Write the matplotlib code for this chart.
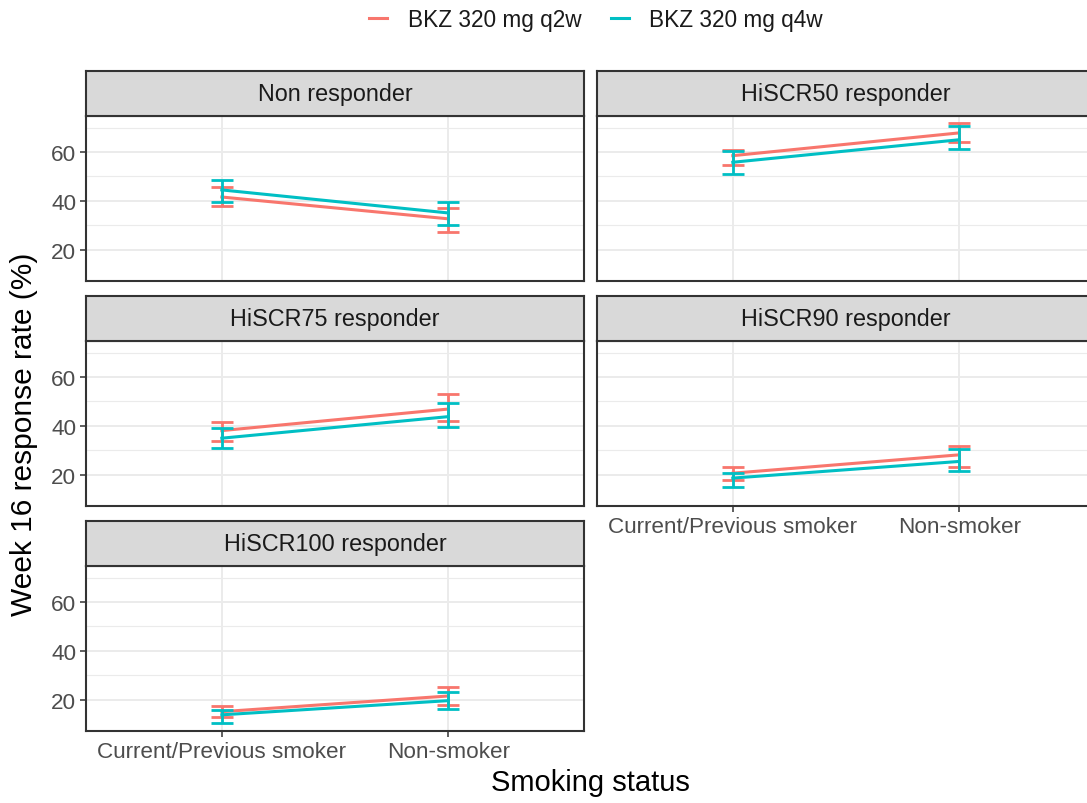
import matplotlib
matplotlib.use("Agg")
import matplotlib.pyplot as plt
from matplotlib.lines import Line2D

plt.rcParams['font.family'] = ['Liberation Sans', 'DejaVu Sans']

# ---- data ----
panels = ["Non responder", "HiSCR50 responder", "HiSCR75 responder",
          "HiSCR90 responder", "HiSCR100 responder"]
categories = ["Current/Previous smoker", "Non-smoker"]
series_names = ["BKZ 320 mg q2w", "BKZ 320 mg q4w"]

q2w_rate = [[41.6, 32.7], [58.5, 67.8], [38.1, 46.9], [20.7, 28.2], [15.2, 21.6]]
q2w_low = [[38.0, 27.5], [54.7, 63.9], [34.0, 42.0], [18.0, 23.4], [13.2, 18.0]]
q2w_high = [[45.7, 37.1], [61.0, 71.8], [41.5, 53.0], [23.4, 31.8], [17.6, 25.4]]

q4w_rate = [[44.5, 35.1], [55.8, 65.0], [35.0, 43.8], [18.7, 25.5], [13.9, 19.7]]
q4w_low = [[39.5, 30.0], [51.0, 61.2], [30.9, 39.5], [15.2, 21.8], [10.5, 16.2]]
q4w_high = [[48.6, 39.5], [60.5, 70.7], [39.0, 49.3], [20.7, 30.5], [15.9, 23.4]]

y_ticks = [20, 40, 60]
y_minor = [30, 50, 70]

# ---- style ----
W, H = 1087, 804
colors = ["#F8766D", "#00BFC4"]
grey20 = "#333333"
grey30 = "#4D4D4D"
grid_col = "#EBEBEB"

fig = plt.figure(figsize=(W / 100, H / 100), dpi=100)


def fx(px):
    return px / W


def fy(py):
    return 1 - py / H


col_x = [86, 597]
panel_w = 498
row_top = [72, 297, 522]
strip_h = 45
plot_h = 165

layout = [(0, 0), (0, 1), (1, 0), (1, 1), (2, 0)]
bottom_panels = {3, 4}

series = [
    (q2w_rate, q2w_low, q2w_high),
    (q4w_rate, q4w_low, q4w_high),
]

xpos = list(range(1, len(categories) + 1))

for i, name in enumerate(panels):
    r, c = layout[i]
    x0 = col_x[c]
    st = row_top[r]
    pt = st + strip_h
    pb = pt + plot_h
    ax = fig.add_axes([fx(x0), fy(pb), fx(panel_w), (pb - pt) / H])
    sax = fig.add_axes([fx(x0), fy(pt), fx(panel_w), strip_h / H])

    # strip
    sax.set_facecolor("#D9D9D9")
    sax.set_xticks([])
    sax.set_yticks([])
    for s in sax.spines.values():
        s.set_color(grey20)
        s.set_linewidth(1.5)
    sax.text(0.5, 0.5, name, ha="center", va="center", fontsize=16.8,
             color="#1A1A1A", transform=sax.transAxes)

    # panel
    ax.set_xlim(0.4, 2.6)
    ax.set_ylim(7.3, 74.7)
    ax.set_yticks(y_ticks)
    ax.set_yticks(y_minor, minor=True)
    ax.set_xticks(xpos)
    ax.grid(True, which="major", color=grid_col, lw=1.4, zorder=0)
    ax.grid(True, which="minor", axis="y", color=grid_col, lw=0.8, zorder=0)
    ax.set_axisbelow(True)
    for s in ax.spines.values():
        s.set_color(grey20)
        s.set_linewidth(1.5)
    ax.tick_params(which="minor", length=0)
    ax.tick_params(which="major", length=4, width=1.1, color=grey20,
                   labelsize=16.2, labelcolor=grey30, pad=3)
    if c == 0:
        ax.set_yticklabels([str(t) for t in y_ticks])
    else:
        ax.tick_params(axis="y", length=0, labelleft=False)
    if i in bottom_panels:
        ax.set_xticklabels(categories)
    else:
        ax.tick_params(axis="x", length=0, labelbottom=False)

    for k, (rate, low, high) in enumerate(series):
        yv = rate[i]
        lo = low[i]
        hi = high[i]
        err = [[yv[j] - lo[j] for j in range(2)], [hi[j] - yv[j] for j in range(2)]]
        ax.errorbar(xpos, yv, yerr=err, fmt="none", ecolor=colors[k],
                    elinewidth=2.0, capsize=8, capthick=2.0, zorder=3 + k)
        ax.plot(xpos, yv, color=colors[k], lw=2.2, zorder=3 + k)

# axis titles
fig.text(fx(590), fy(783), "Smoking status", ha="center", va="center",
         fontsize=21, color="black")
fig.text(fx(24), fy(434), "Week 16 response rate (%)", ha="center",
         va="center", rotation=90, fontsize=21.5, color="black")

# legend
handles = [Line2D([0], [0], color=colors[k], lw=2.2) for k in range(2)]
fig.legend(handles, series_names, loc="center", ncol=2,
           bbox_to_anchor=(fx(596), fy(20)), frameon=False, fontsize=16.3,
           handlelength=0.8, handletextpad=0.9, columnspacing=1.3,
           labelcolor="#1A1A1A")

fig.savefig("out.png", dpi=100)
